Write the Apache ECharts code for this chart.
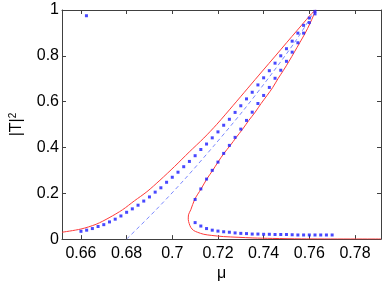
<!DOCTYPE html>
<html>
<head>
<meta charset="utf-8">
<script src="https://cdn.jsdelivr.net/npm/echarts@6/dist/echarts.min.js"></script>
<style>html,body{margin:0;padding:0;background:#fff}#c{width:382px;height:287px}</style>
</head>
<body>
<div id="c"></div>
<script>
// Tick labels
const xTicks = [0.66, 0.68, 0.70, 0.72, 0.74, 0.76, 0.78];
const yTicks = [0, 0.2, 0.4, 0.6, 0.8, 1];

// Red solid curve, upper branch (left end -> tip)
const redUpMu = [0.6517, 0.6600, 0.6667, 0.6723, 0.6782, 0.6834, 0.6889, 0.6946, 0.7010, 0.7074, 0.7138, 0.7195,
                 0.7267, 0.7331, 0.7395, 0.7451, 0.7502, 0.7545, 0.7588, 0.7610, 0.7624, 0.7628];
const redUpT  = [0.030, 0.044, 0.065, 0.093, 0.128, 0.167, 0.207, 0.257, 0.317, 0.380, 0.441, 0.501,
                 0.584, 0.659, 0.734, 0.799, 0.859, 0.909, 0.959, 0.984, 0.997, 1.000];
// Red solid curve, lower branch (tip -> turning point -> right end)
const redLowMu = [0.7626, 0.7618, 0.7603, 0.7582, 0.7558, 0.7535, 0.7511, 0.7487, 0.7464, 0.7440, 0.7415, 0.7389,
                  0.7363, 0.7335, 0.7308, 0.7280, 0.7254, 0.7226, 0.7200, 0.7177, 0.7151, 0.7126, 0.7098, 0.7081,
                  0.7071, 0.7070, 0.7074, 0.7081, 0.7093, 0.7110, 0.7138, 0.7173, 0.7224, 0.7288, 0.7353, 0.7438,
                  0.7567, 0.7914];
const redLowT  = [0.992, 0.975, 0.941, 0.899, 0.857, 0.817, 0.776, 0.737, 0.702, 0.662, 0.627, 0.592,
                  0.554, 0.518, 0.480, 0.444, 0.409, 0.374, 0.336, 0.300, 0.262, 0.219, 0.173, 0.128,
                  0.106, 0.086, 0.068, 0.051, 0.038, 0.030, 0.021, 0.016, 0.011, 0.008, 0.005, 0.003,
                  0.001, 0.0004];

// Blue dotted: upper-left branch
const dotUpMu = [0.66, 0.6625, 0.665, 0.6675, 0.67, 0.6725, 0.675, 0.6775, 0.68, 0.6825, 0.685, 0.6875, 0.69, 0.6925, 0.695, 0.6975,
                 0.70, 0.7025, 0.705, 0.7075, 0.71, 0.7125, 0.715, 0.7175, 0.72, 0.7225, 0.725, 0.7275, 0.73, 0.7325, 0.735, 0.7375,
                 0.74, 0.7425, 0.745, 0.7475, 0.75, 0.7525, 0.755, 0.7575, 0.76, 0.7625];
const dotUpT  = [0.034, 0.039, 0.046, 0.055, 0.063, 0.075, 0.087, 0.101, 0.117, 0.132, 0.148, 0.166, 0.184, 0.205, 0.224, 0.248,
                 0.270, 0.292, 0.316, 0.339, 0.364, 0.391, 0.415, 0.442, 0.468, 0.497, 0.523, 0.553, 0.582, 0.612, 0.641, 0.673,
                 0.704, 0.735, 0.768, 0.800, 0.831, 0.864, 0.899, 0.933, 0.965, 0.994];

// Blue dotted: right (rising) branch
const dotRiseMu = [0.71, 0.7125, 0.715, 0.7175, 0.72, 0.7225, 0.725, 0.7275, 0.73, 0.7325, 0.735, 0.7375, 0.74, 0.7425, 0.745, 0.7475, 0.75, 0.7525, 0.755, 0.7575, 0.76, 0.7625];
const dotRiseT  = [0.173, 0.219, 0.262, 0.300, 0.336, 0.374, 0.409, 0.444, 0.480, 0.518, 0.554, 0.592, 0.627, 0.662, 0.702, 0.737, 0.776, 0.816, 0.857, 0.899, 0.945, 0.983];

// Blue dotted: lower branch
const dotLowMu = [0.71, 0.7125, 0.715, 0.7175, 0.72, 0.7225, 0.725, 0.7275, 0.73, 0.7325, 0.735, 0.7375, 0.74, 0.7425, 0.745, 0.7475,
                  0.75, 0.7525, 0.755, 0.7575, 0.76, 0.7625, 0.765, 0.7675, 0.77];
const dotLowT  = [0.072, 0.057, 0.046, 0.039, 0.035, 0.032, 0.030, 0.027, 0.025, 0.024, 0.022, 0.022, 0.021, 0.021, 0.020, 0.020,
                  0.020, 0.019, 0.018, 0.018, 0.018, 0.018, 0.018, 0.018, 0.018];

// Stray blue point
const strayMu = [0.6624];
const strayT = [0.975];

// Blue dashed backbone
const dashMu = [0.68, 0.6924, 0.7053, 0.7181, 0.7310, 0.7438, 0.7545, 0.7622];
const dashT  = [0.0, 0.123, 0.260, 0.406, 0.560, 0.725, 0.872, 0.994];

const zip = (a, b) => a.map((v, i) => [v, b[i]]);
const fmt = v => String(+(+v).toFixed(2));
const axisCol = '#404040';
const font = {fontFamily: 'Liberation Sans, Arial, sans-serif', fontSize: 16, color: '#000'};

const chart = echarts.init(document.getElementById('c'), null, {renderer: 'canvas'});
chart.setOption({
  animation: false,
  grid: {left: 55, right: 1, top: 10, bottom: 40, containLabel: false},
  xAxis: [
    {type: 'value', min: 0.6517, max: 0.7914, position: 'bottom',
     name: 'μ', nameLocation: 'middle', nameGap: 23, nameTextStyle: font,
     axisLine: {show: true, onZero: false, lineStyle: {color: axisCol, width: 1}},
     axisTick: {show: true, inside: true, length: 4, customValues: xTicks, lineStyle: {color: axisCol}},
     axisLabel: {customValues: xTicks, formatter: fmt, margin: 6, ...font},
     splitLine: {show: false}},
    {type: 'value', min: 0.6517, max: 0.7914, position: 'top',
     axisLine: {show: true, onZero: false, lineStyle: {color: axisCol, width: 1}},
     axisTick: {show: true, inside: true, length: 4, customValues: xTicks, lineStyle: {color: axisCol}},
     axisLabel: {show: false}, splitLine: {show: false}}
  ],
  yAxis: [
    {type: 'value', min: 0, max: 1, interval: 0.2, position: 'left',
     name: '|T|{s|2}', nameLocation: 'middle', nameGap: 36, nameRotate: 90,
     nameTextStyle: {...font, rich: {s: {fontFamily: font.fontFamily, fontSize: 10, verticalAlign: 'top', padding: [0, 0, 8, 0], color: '#000'}}},
     axisLine: {show: true, onZero: false, lineStyle: {color: axisCol, width: 1}},
     axisTick: {show: true, inside: true, length: 4, lineStyle: {color: axisCol}},
     axisLabel: {formatter: fmt, margin: 3, ...font},
     splitLine: {show: false}},
    {type: 'value', min: 0, max: 1, interval: 0.2, position: 'right',
     axisLine: {show: true, onZero: false, lineStyle: {color: axisCol, width: 1}},
     axisTick: {show: true, inside: true, length: 4, lineStyle: {color: axisCol}},
     axisLabel: {show: false}, splitLine: {show: false}}
  ],
  series: [
    {type: 'line', data: zip(dashMu, dashT), showSymbol: false, symbol: 'none', smooth: 0.3,
     lineStyle: {color: '#7a88ff', width: 1, type: [4, 3]}, z: 2},
    {type: 'line', data: zip(redUpMu, redUpT).concat(zip(redLowMu, redLowT)), showSymbol: false, symbol: 'none', smooth: 0.3,
     lineStyle: {color: '#ff3a3a', width: 1}, z: 3},
    {type: 'scatter', data: zip(dotUpMu, dotUpT), symbol: 'rect', symbolSize: 3, itemStyle: {color: '#1a1aff'}, z: 4},
    {type: 'scatter', data: zip(dotRiseMu, dotRiseT), symbol: 'rect', symbolSize: 3, itemStyle: {color: '#1a1aff'}, z: 4},
    {type: 'scatter', data: zip(dotLowMu, dotLowT), symbol: 'rect', symbolSize: 3, itemStyle: {color: '#1a1aff'}, z: 4},
    {type: 'scatter', data: zip(strayMu, strayT), symbol: 'rect', symbolSize: 3, itemStyle: {color: '#1a1aff'}, z: 4}
  ]
});
</script>
</body>
</html>
